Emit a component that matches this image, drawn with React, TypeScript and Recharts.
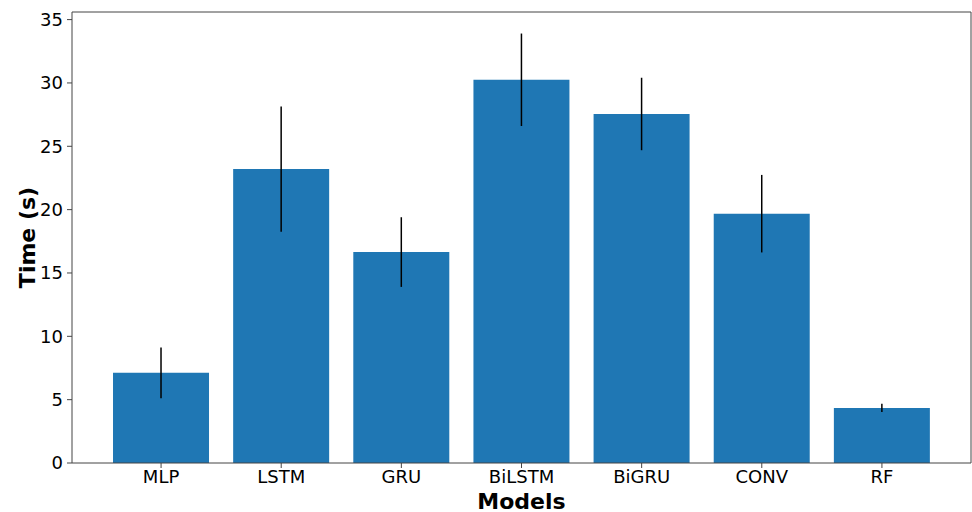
import React from 'react';
import {
  BarChart,
  Bar,
  XAxis,
  YAxis,
  ErrorBar,
} from 'recharts';

const models = ['MLP', 'LSTM', 'GRU', 'BiLSTM', 'BiGRU', 'CONV', 'RF'];
const meanTimes = [7.12, 23.2, 16.65, 30.25, 27.55, 19.68, 4.35];
const stdTimes = [2.0, 4.95, 2.75, 3.65, 2.86, 3.06, 0.33];
const yTicks = [0, 5, 10, 15, 20, 25, 30, 35];

const data = models.map((model, i) => ({
  model,
  time: meanTimes[i],
  err: stdTimes[i],
}));

const FONT = "'DejaVu Sans', sans-serif";

const YTitle = (props: any) => {
  const { viewBox } = props;
  const cx = viewBox.x + 27;
  const cy = viewBox.y + viewBox.height / 2;
  return (
    <text
      x={cx}
      y={cy}
      transform={`rotate(-90, ${cx}, ${cy})`}
      textAnchor='middle'
      dominantBaseline='central'
      fontFamily={FONT}
      fontSize={22}
      fontWeight='bold'
      fill='#000'
    >
      Time (s)
    </text>
  );
};

const XTitle = (props: any) => {
  const { viewBox } = props;
  return (
    <text
      x={viewBox.x + viewBox.width / 2}
      y={viewBox.y + 38}
      textAnchor='middle'
      dominantBaseline='central'
      fontFamily={FONT}
      fontSize={22}
      fontWeight='bold'
      fill='#000'
    >
      Models
    </text>
  );
};

export default function App() {
  const tickStyle = { fontSize: 18, fill: '#000', fontFamily: FONT };
  return (
    <div style={{ position: 'absolute', left: 0, top: 0, background: '#fff' }}>
      <BarChart
        width={972}
        height={512}
        data={data}
        margin={{ top: 11, right: 0, bottom: 0, left: 0 }}
        barCategoryGap='10%'
      >
        <XAxis
          dataKey='model'
          padding={{ left: 29, right: 29 }}
          height={49}
          tick={tickStyle}
          tickSize={5}
          tickMargin={2}
          stroke='#444'
          tickLine={{ stroke: '#444' }}
          label={<XTitle />}
        />
        <XAxis
          xAxisId='top'
          orientation='top'
          dataKey='model'
          height={1}
          tick={false}
          tickLine={false}
          stroke='#444'
        />
        <YAxis
          width={72}
          domain={[0, 35.6]}
          ticks={yTicks}
          allowDataOverflow
          tick={tickStyle}
          tickSize={5}
          tickMargin={4}
          stroke='#444'
          tickLine={{ stroke: '#444' }}
          label={<YTitle />}
        />
        <YAxis
          yAxisId='right'
          orientation='right'
          width={1}
          tick={false}
          tickLine={false}
          stroke='#444'
        />
        <Bar dataKey='time' fill='#1f77b4' isAnimationActive={false}>
          <ErrorBar
            dataKey='err'
            width={0}
            stroke='#000'
            strokeWidth={1.5}
            direction='y'
          />
        </Bar>
      </BarChart>
    </div>
  );
}
